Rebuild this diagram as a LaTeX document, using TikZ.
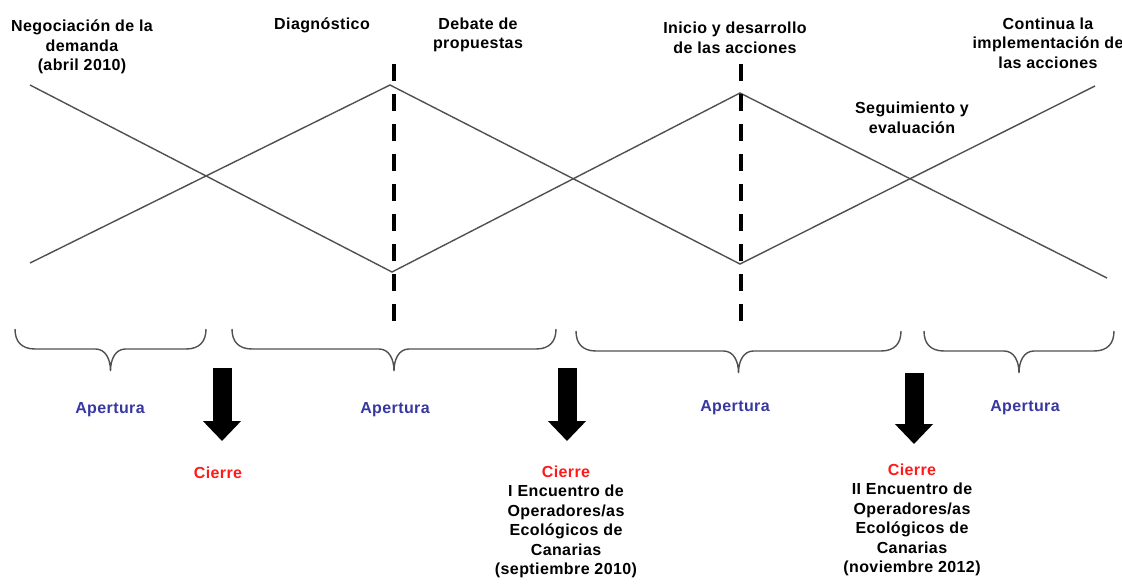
\documentclass[tikz,border=0pt]{standalone}
\usepackage{fontspec}
\setmainfont[LetterSpace=2.5]{Liberation Sans}
\usepackage{xcolor}
\usepackage{tikz}
\usetikzlibrary{arrows.meta}
\definecolor{aperblue}{RGB}{55,55,160}
\definecolor{cierrered}{RGB}{255,25,25}
\definecolor{linegray}{RGB}{80,80,80}

\begin{document}
\begin{tikzpicture}[x=1pt, y=-1pt]
		\tikzstyle{lbl}=[align=center, inner sep=0pt, font=\bfseries\fontsize{16}{19.5}\selectfont]
		\tikzstyle{aper}=[lbl, text=aperblue]
		\tikzstyle{zig}=[draw=linegray, line width=1.4pt]
		\tikzstyle{cut}=[line width=3.6pt, dash pattern=on 17pt off 13pt]
		\tikzstyle{flecha}=[line width=19pt, -{Triangle[width=37pt, length=20pt]}]
		\def\cierre{\textcolor{cierrered}{Cierre}}
		\def\llave#1#2#3{\draw[zig] (#1,#3) .. controls (#1,{#3+12}) and ({#1+6},{#3+20}) .. ({#1+20},{#3+20})
			-- ({(#1+#2)/2-15},{#3+20}) .. controls ({(#1+#2)/2-5},{#3+20}) and ({(#1+#2)/2},{#3+30}) .. ({(#1+#2)/2},{#3+42})
			.. controls ({(#1+#2)/2},{#3+30}) and ({(#1+#2)/2+5},{#3+20}) .. ({(#1+#2)/2+15},{#3+20})
			-- ({#2-20},{#3+20}) .. controls ({#2-6},{#3+20}) and (#2,{#3+12}) .. (#2,#3);}
		\useasboundingbox (0,0) rectangle (1122,584);
		% zigzag
		\coordinate (a0) at (30,85);
		\coordinate (a1) at (392,272);
		\coordinate (a2) at (740,93);
		\coordinate (a3) at (1107,278);
		\coordinate (b0) at (30,263);
		\coordinate (b1) at (390,85);
		\coordinate (b2) at (740,264);
		\coordinate (b3) at (1095,86);
		\draw[zig] (a0) -- (a1) -- (a2) -- (a3);
		\draw[zig] (b0) -- (b1) -- (b2) -- (b3);
		% cortes
		\coordinate (d1t) at (394,64);
		\coordinate (d1b) at (394,322);
		\coordinate (d2t) at (741,64);
		\coordinate (d2b) at (741,322);
		\draw[cut] (d1t) -- (d1b) (d2t) -- (d2b);
		% llaves
		\llave{15}{206}{329}
		\llave{232}{556}{329}
		\llave{576}{901}{331}
		\llave{924}{1114}{331}
		% flechas
		\coordinate (f1t) at (222,368);
		\coordinate (f1b) at (222,441);
		\coordinate (f2t) at (567,368);
		\coordinate (f2b) at (567,441);
		\coordinate (f3t) at (914,373);
		\coordinate (f3b) at (914,444);
		\draw[flecha] (f1t) -- (f1b);
		\draw[flecha] (f2t) -- (f2b);
		\draw[flecha] (f3t) -- (f3b);
		% etiquetas
		\node[lbl] (neg) at (82,47) {Negociación de la\\demanda\\(abril 2010)};
		\node[lbl] (diag) at (322,25) {Diagnóstico};
		\node[lbl] (deb) at (478,35) {Debate de\\propuestas};
		\node[lbl] (ini) at (735,38) {Inicio y desarrollo\\de las acciones};
		\node[lbl] (cont) at (1048,43) {Continua la\\implementación de\\las acciones};
		\node[lbl] (seg) at (912,118) {Seguimiento y\\evaluación};
		\node[aper] (ap1) at (110,410) {Apertura};
		\node[aper] (ap2) at (395,410) {Apertura};
		\node[aper] (ap3) at (735,408) {Apertura};
		\node[aper] (ap4) at (1025,408) {Apertura};
		\node[lbl] (ci1) at (218,473) {\cierre};
		\node[lbl] (ci2) at (566,522) {\cierre\\I Encuentro de\\Operadores/as\\Ecológicos de\\Canarias\\(septiembre 2010)};
		\node[lbl] (ci3) at (912,520) {\cierre\\II Encuentro de\\Operadores/as\\Ecológicos de\\Canarias\\(noviembre 2012)};
	\end{tikzpicture}
\end{document}
